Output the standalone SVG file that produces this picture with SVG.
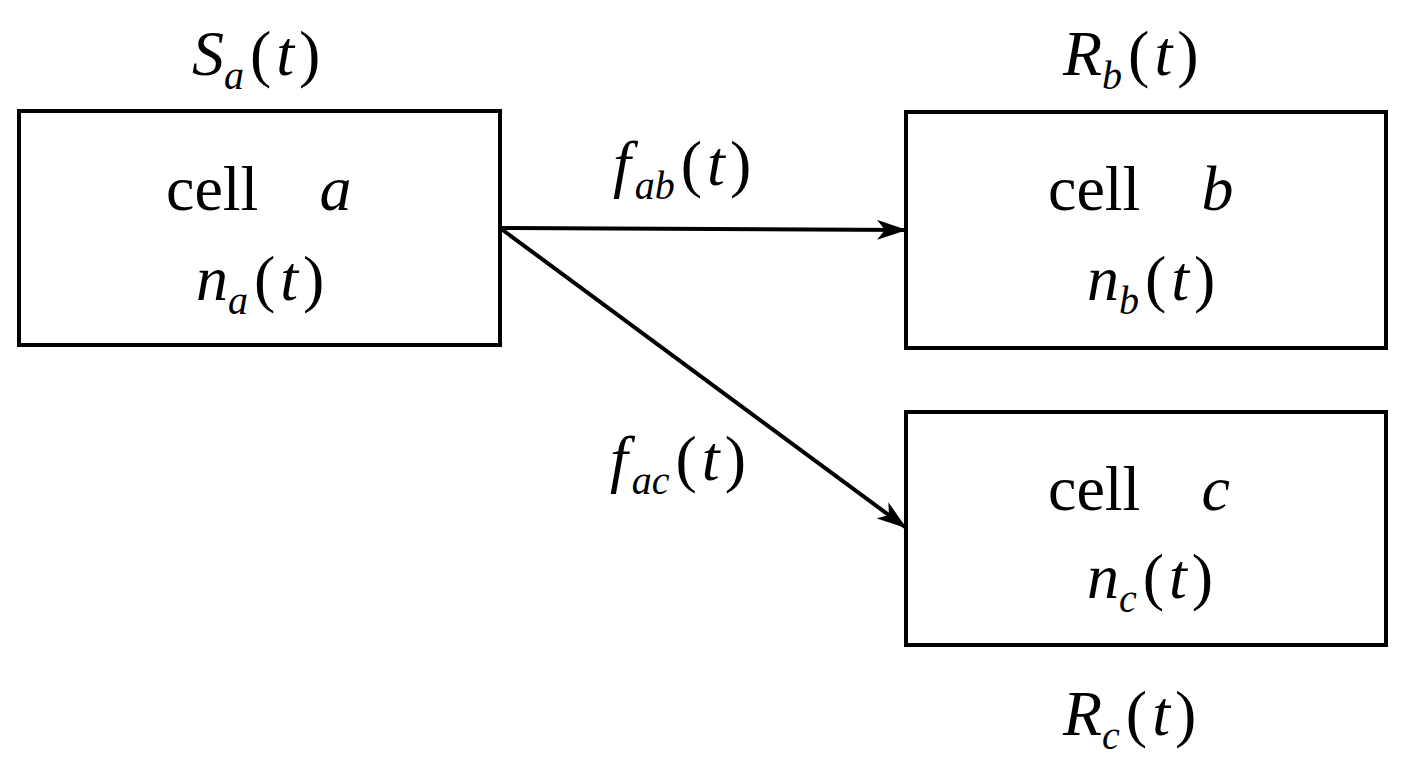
<svg xmlns="http://www.w3.org/2000/svg" width="1405" height="763" viewBox="0 0 1405 763">
<style>
text{font-family:"Liberation Serif","DejaVu Serif",serif;font-size:64px;fill:#000}
.i{font-style:italic}
.s{font-size:40px;font-style:italic}
.n{font-style:normal}
.box{fill:#fff;stroke:#000;stroke-width:4}
</style>
<defs>
<marker id="ah2" markerWidth="30" markerHeight="20" refX="28" refY="10" orient="auto" markerUnits="userSpaceOnUse"><path d="M0,0 L30,10 L0,20 L8,10 Z" fill="#000"/></marker></defs>
<rect width="1405" height="763" fill="#fff"/>
<g id="connectors">
<line x1="500" y1="228" x2="905" y2="230" stroke="#000" stroke-width="4" marker-end="url(#ah2)"/>
<line x1="500" y1="228" x2="905" y2="527" stroke="#000" stroke-width="4" marker-end="url(#ah2)"/>
<text font-family="Liberation Serif, serif" x="613" y="185" class="i">f<tspan class="s" dy="14" dx="4">ab</tspan><tspan dy="-14" dx="6" class="n">(</tspan><tspan dx="5">t</tspan><tspan dx="5" class="n">)</tspan></text>
<text font-family="Liberation Serif, serif" x="610" y="480" class="i">f<tspan class="s" dy="14" dx="4">ac</tspan><tspan dy="-14" dx="6" class="n">(</tspan><tspan dx="5">t</tspan><tspan dx="5" class="n">)</tspan></text>
</g>
<g id="cell-a">
<rect class="box" x="19" y="111" width="481" height="234"/>
<text font-family="Liberation Serif, serif" x="166" y="210">cell <tspan class="i" dx="45">a</tspan></text>
<text font-family="Liberation Serif, serif" x="196" y="300" class="i">n<tspan class="s" dy="14">a</tspan><tspan dy="-14" dx="6" class="n">(</tspan><tspan dx="5">t</tspan><tspan dx="5" class="n">)</tspan></text>
<text font-family="Liberation Serif, serif" x="192" y="75" class="i">S<tspan class="s" dy="14">a</tspan><tspan dy="-14" dx="6" class="n">(</tspan><tspan dx="5">t</tspan><tspan dx="5" class="n">)</tspan></text>
</g>
<g id="cell-b">
<rect class="box" x="906" y="112" width="480" height="236"/>
<text font-family="Liberation Serif, serif" x="1048" y="210">cell <tspan class="i" dx="45">b</tspan></text>
<text font-family="Liberation Serif, serif" x="1087" y="300" class="i">n<tspan class="s" dy="14">b</tspan><tspan dy="-14" dx="6" class="n">(</tspan><tspan dx="5">t</tspan><tspan dx="5" class="n">)</tspan></text>
<text font-family="Liberation Serif, serif" x="1063" y="75" class="i">R<tspan class="s" dy="14">b</tspan><tspan dy="-14" dx="6" class="n">(</tspan><tspan dx="5">t</tspan><tspan dx="5" class="n">)</tspan></text>
</g>
<g id="cell-c">
<rect class="box" x="906" y="412" width="480" height="233"/>
<text font-family="Liberation Serif, serif" x="1048" y="510">cell <tspan class="i" dx="45">c</tspan></text>
<text font-family="Liberation Serif, serif" x="1087" y="598" class="i">n<tspan class="s" dy="14">c</tspan><tspan dy="-14" dx="6" class="n">(</tspan><tspan dx="5">t</tspan><tspan dx="5" class="n">)</tspan></text>
<text font-family="Liberation Serif, serif" x="1063" y="735" class="i">R<tspan class="s" dy="14">c</tspan><tspan dy="-14" dx="6" class="n">(</tspan><tspan dx="5">t</tspan><tspan dx="5" class="n">)</tspan></text>
</g>
</svg>
